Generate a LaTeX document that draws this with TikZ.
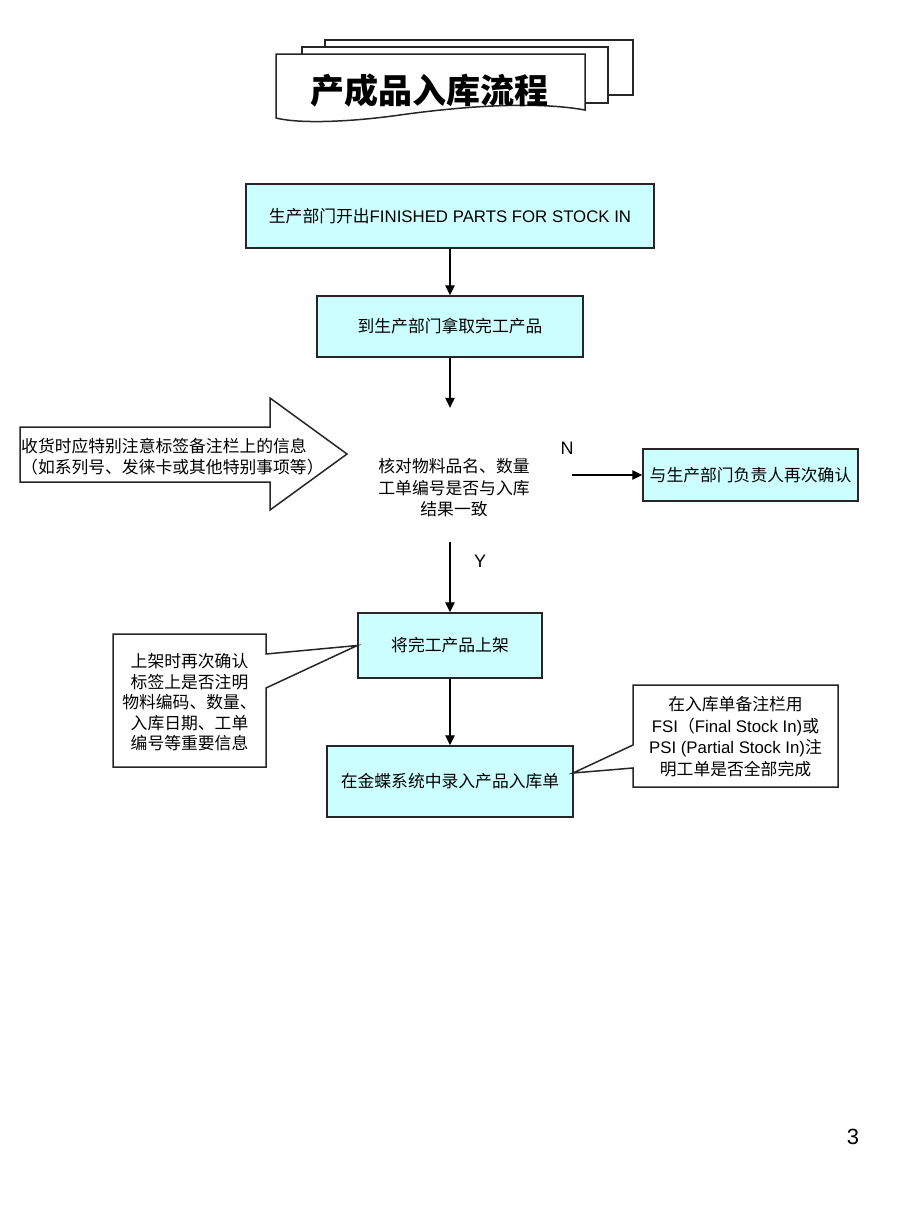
\documentclass[tikz,border=0pt]{standalone}
\usepackage{fontspec}
\setmainfont{Liberation Sans}
\newfontfamily\cjk{Noto Sans CJK SC}
\usetikzlibrary{arrows.meta}
\definecolor{boxfill}{HTML}{CCFFFF}
\tikzset{
  boxst/.style={draw=black!85, line width=1.5pt, fill=boxfill, inner sep=0pt, align=center, font=\cjk\fontsize{16.8}{21.5}\selectfont},
  plain/.style={inner sep=0pt, align=center, font=\cjk\fontsize{16.8}{21.5}\selectfont},
  arr/.style={draw=black, line width=1.3pt, -{Triangle[length=10pt,width=9.5pt]}},
  outl/.style={draw=black!85, line width=1.5pt, fill=white, line join=miter},
  lbl/.style={inner sep=0pt, font=\fontsize{18}{20}\selectfont}
}
\begin{document}
\begin{tikzpicture}[x=1pt,y=-1pt]
\useasboundingbox (0,0) rectangle (920,1227);
% title stack
\draw[outl, fill=none] (325,47) -- (325,40) -- (633,40) -- (633,95) -- (608,95);
\draw[outl, fill=none] (302,54) -- (302,47) -- (608,47) -- (608,103) -- (585,103);
\draw[outl] (276,54) -- (585,54) -- (585,110) .. controls (530,100) and (450,108) .. (400,115) .. controls (350,122) and (300,124) .. (276,118) -- cycle;
\node[inner sep=0pt, font=\cjk\bfseries\fontsize{34}{40}\selectfont] (title) at (429,91) {产成品入库流程};

% main boxes
\node[boxst, minimum width=408pt, minimum height=64pt] (b1) at (450,216) {生产部门开出{\rmfamily FINISHED PARTS FOR STOCK IN}};
\node[boxst, minimum width=266pt, minimum height=61pt] (b2) at (450,326.5) {到生产部门拿取完工产品};
\node[minimum width=244pt, minimum height=134pt, inner sep=0pt] (dec) at (450,475) {};
\node[plain] (dectxt) at (454,488) {核对物料品名、数量\\工单编号是否与入库\\结果一致};
\node[boxst, minimum width=215pt, minimum height=52pt] (b3) at (750.5,475) {与生产部门负责人再次确认};
\node[boxst, minimum width=184pt, minimum height=65pt] (b4) at (450,645.5) {将完工产品上架};
\node[boxst, minimum width=246pt, minimum height=71pt] (b5) at (450,781.5) {在金蝶系统中录入产品入库单};

% connectors
\draw[arr] (b1) -- (b2);
\draw[arr] (b2) -- (dec.north);
\draw[arr] (dec.east) -- (b3.west);
\draw[arr] (dec.south) -- (b4.north);
\draw[arr] (b4) -- (b5);
\node[lbl] (nlab) at (567,448) {N};
\node[lbl] (ylab) at (480,561) {Y};

% block arrow
\draw[outl] (20,427) -- (270,427) -- (270,398) -- (347,454) -- (270,510) -- (270,482) -- (20,482) -- cycle;
\node[plain, align=left, anchor=west, font=\cjk\fontsize{16.8}{21}\selectfont] (blk) at (21,456.5) {收货时应特别注意标签备注栏上的信息\\（如系列号、发徕卡或其他特别事项等）};

% left callout
\draw[outl] (113,634) -- (266,634) -- (266,654) -- (b4.west) -- (266,688) -- (266,767) -- (113,767) -- cycle;
\node[plain, font=\cjk\fontsize{16.8}{20.5}\selectfont] (cl) at (189.5,702.5) {上架时再次确认\\标签上是否注明\\物料编码、数量、\\入库日期、工单\\编号等重要信息};

% right callout
\coordinate (tipR) at (573,773);
\draw[outl] (633,685) -- (838,685) -- (838,787) -- (633,787) -- (633,768) -- (tipR) -- (633,745) -- cycle;
\node[plain, font=\cjk\fontsize{16.8}{21.5}\selectfont] (cr) at (735.5,736.5) {在入库单备注栏用\\{\rmfamily FSI}（{\rmfamily Final Stock In)}或\\{\rmfamily PSI (Partial Stock In)}注\\明工单是否全部完成};

\node[inner sep=0pt, font=\fontsize{22}{24}\selectfont] (pg) at (853,1137) {3};
\end{tikzpicture}
\end{document}
